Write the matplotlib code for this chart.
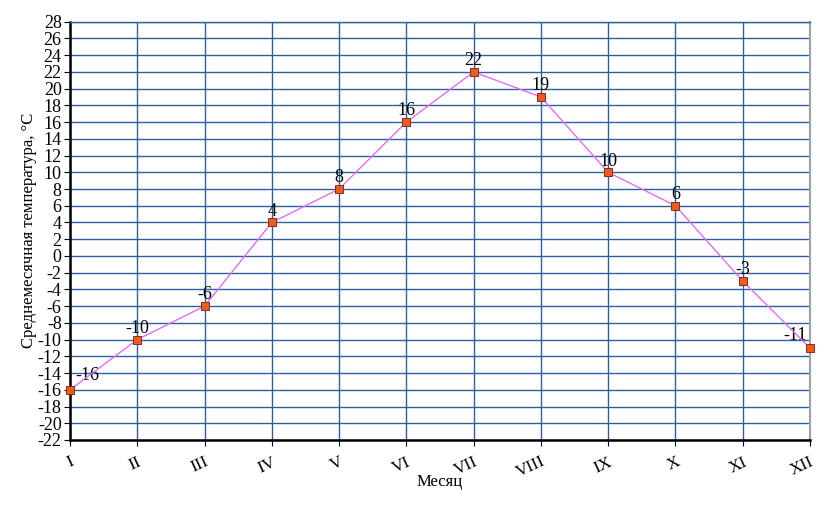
import matplotlib
matplotlib.use("Agg")
import matplotlib.pyplot as plt
import numpy as np

months = ["I", "II", "III", "IV", "V", "VI", "VII", "VIII", "IX", "X", "XI", "XII"]
temps = [-16, -10, -6, 4, 8, 16, 22, 19, 10, 6, -3, -11]
yticks = list(range(-22, 29, 2))

plt.rcParams['font.family'] = ['Liberation Serif', 'DejaVu Serif']

fig = plt.figure(figsize=(8.32, 5.07), dpi=100)
ax = fig.add_axes([70/832, 1 - 440/507, (810-70)/832, (440-21.7)/507])

x = np.arange(len(months))
ax.set_xlim(0, len(months) - 1)
ax.set_ylim(-22, 28)
ax.set_yticks(yticks)
ax.set_yticklabels([str(v) for v in yticks], fontsize=13)
ax.set_xticks(x)
ax.set_xticklabels(months, fontsize=12.5, rotation=25, ha='right', va='top',
                   rotation_mode='anchor')
ax.tick_params(axis='x', length=4, pad=6, color='black')
ax.tick_params(axis='y', length=4, pad=2, color='black')

ax.grid(True, color='#2f5f9c', linewidth=1.0)
ax.set_axisbelow(True)

for s in ['left', 'bottom']:
    ax.spines[s].set_color('black')
    ax.spines[s].set_linewidth(1.8)
ax.spines['top'].set_color('#2f5f9c')
ax.spines['top'].set_linewidth(1.0)
ax.spines['right'].set_color('#a0a0a0')
ax.spines['right'].set_linewidth(1.5)

ax.plot(x, temps, color='#e070f0', linewidth=1.0, marker='s', markersize=6,
        markerfacecolor='#f05a1e', markeredgecolor='#803020', markeredgewidth=0.7,
        clip_on=False, zorder=5)

for i, v in enumerate(temps):
    if i == 0:
        ax.annotate(str(v), (i, v), xytext=(4, 4), textcoords='offset points',
                    ha='left', va='bottom', fontsize=13)
    elif i == len(temps) - 1:
        ax.annotate(str(v), (i, v), xytext=(-2, 3), textcoords='offset points',
                    ha='right', va='bottom', fontsize=13)
    else:
        ax.annotate(str(v), (i, v), xytext=(0, 2), textcoords='offset points',
                    ha='center', va='bottom', fontsize=13)

ax.set_ylabel("Среднемесячная температура, °C", fontsize=12, labelpad=0.5)
ax.set_xlabel("Месяц", fontsize=12, labelpad=-5)

fig.savefig("out.png", dpi=100)
